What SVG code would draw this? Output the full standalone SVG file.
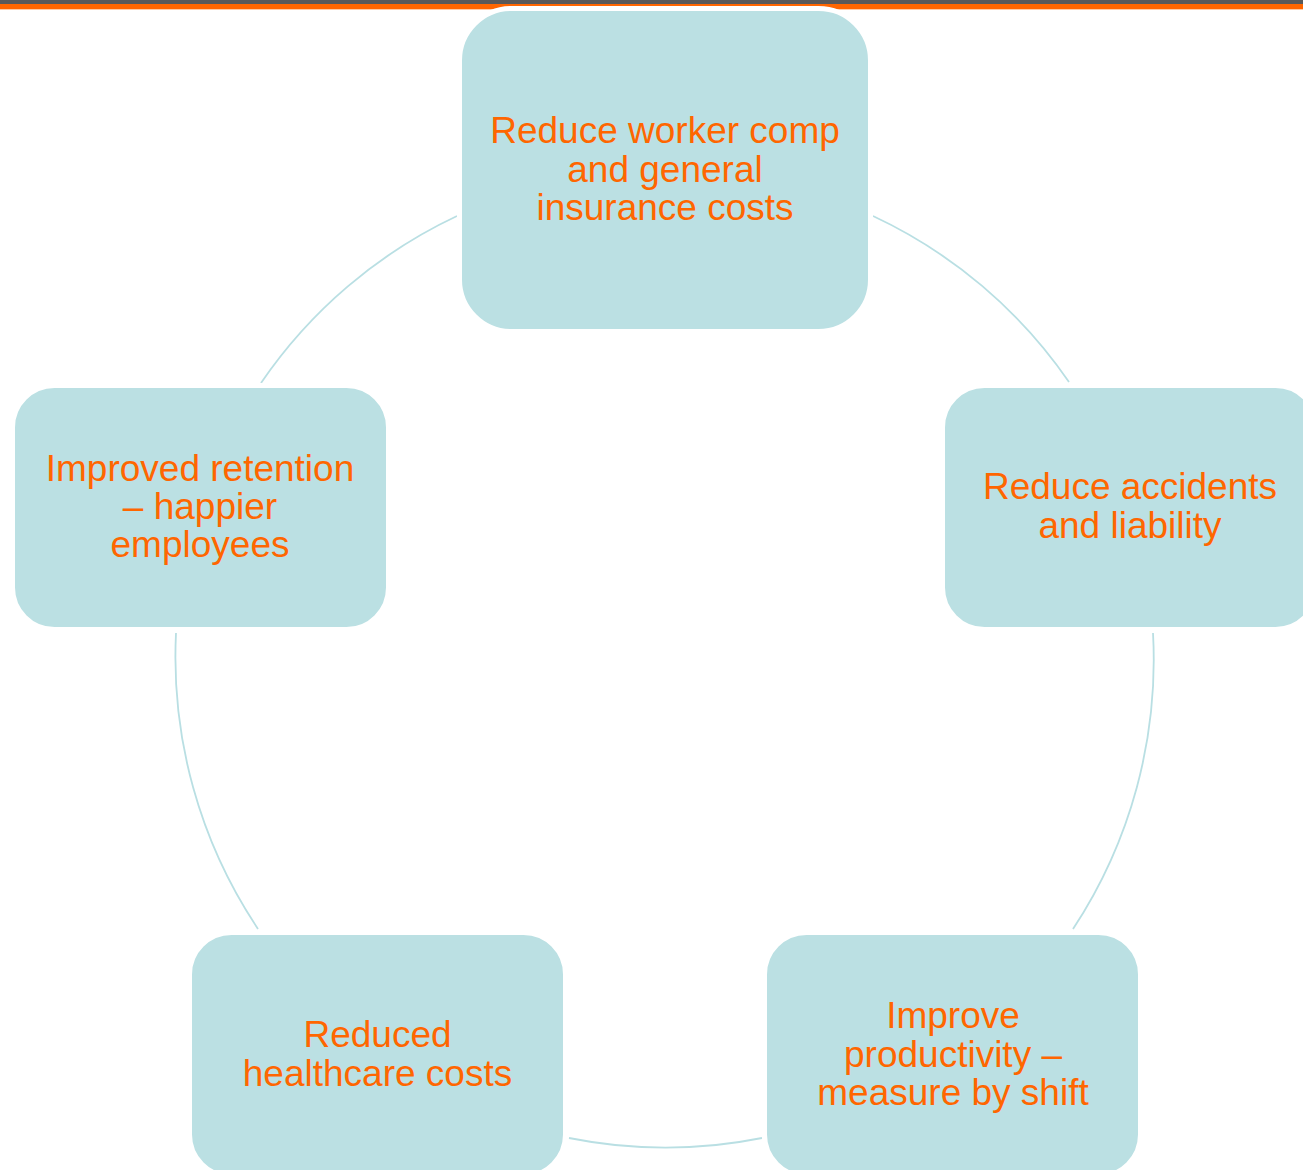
<svg xmlns="http://www.w3.org/2000/svg" width="1303" height="1170" viewBox="0 0 1303 1170">
  <style>
    .box { fill: #BBE0E3; stroke: #FFFFFF; stroke-width: 5; }
    .lbl { font-family: "Liberation Sans", Arial, sans-serif; font-size: 37px; fill: #FF6600; text-anchor: middle; }
    .arc { fill: none; stroke: #B9DFE3; stroke-width: 1.8; }
  </style>
  <rect x="0" y="0" width="1303" height="1170" fill="#FFFFFF"/>
  <rect x="0" y="0" width="1303" height="4" fill="#595959"/>
  <rect x="0" y="4" width="1303" height="5" fill="#FF6600"/>
  <rect x="0" y="9" width="1303" height="1" fill="#FFC9A3"/>

  <g id="connectors">
    <path class="arc" d="M 873 216 A 489 489 0 0 1 1069 382"/>
    <path class="arc" d="M 1153 633 A 489 489 0 0 1 1073 929"/>
    <path class="arc" d="M 762 1138 A 489 489 0 0 1 569 1138"/>
    <path class="arc" d="M 258 929 A 489 489 0 0 1 176 633"/>
    <path class="arc" d="M 261 383 A 489 489 0 0 1 457 216"/>
  </g>

  <g id="node-top">
    <rect class="box" x="459.5" y="8.5" width="411" height="323" rx="52" ry="52"/>
    <text class="lbl" x="665" y="143">Reduce worker comp</text>
    <text class="lbl" x="665" y="181.5">and general</text>
    <text class="lbl" x="665" y="220">insurance costs</text>
  </g>

  <g id="node-right">
    <rect class="box" x="942.5" y="385.5" width="375" height="244" rx="42" ry="42"/>
    <text class="lbl" x="1130" y="499">Reduce accidents</text>
    <text class="lbl" x="1130" y="538">and liability</text>
  </g>

  <g id="node-bottom-right">
    <rect class="box" x="764.5" y="932.5" width="376" height="244" rx="42" ry="42"/>
    <text class="lbl" x="953" y="1028">Improve</text>
    <text class="lbl" x="953" y="1066.5">productivity –</text>
    <text class="lbl" x="953" y="1105">measure by shift</text>
  </g>

  <g id="node-bottom-left">
    <rect class="box" x="189.5" y="932.5" width="376" height="244" rx="42" ry="42"/>
    <text class="lbl" x="377.5" y="1047">Reduced</text>
    <text class="lbl" x="377.5" y="1086">healthcare costs</text>
  </g>

  <g id="node-left">
    <rect class="box" x="12.5" y="385.5" width="376" height="244" rx="42" ry="42"/>
    <text class="lbl" x="200" y="481">Improved retention</text>
    <text class="lbl" x="200" y="519">– happier</text>
    <text class="lbl" x="200" y="557">employees</text>
  </g>
</svg>
